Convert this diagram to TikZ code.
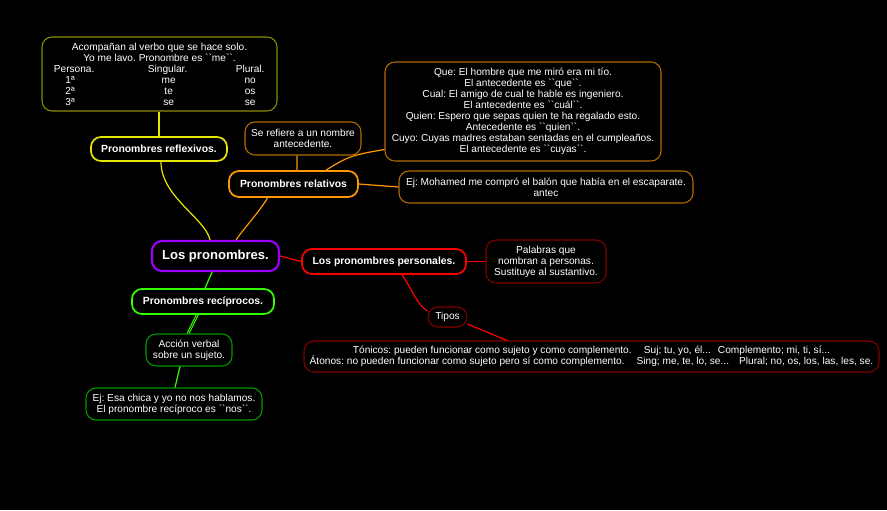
\documentclass[tikz,border=0pt]{standalone}
\usepackage{fontspec}
\setmainfont{Liberation Sans}
\frenchspacing
\newcommand\bq{\textasciigrave\textasciigrave}
\newcommand\hdrow[3]{\makebox[176pt][l]{\hspace*{24pt}\makebox[0pt]{#1}\hspace*{70.1pt}\makebox[0pt]{#2}\hspace*{61.9pt}\makebox[0pt]{#3}}}
\newcommand\nrow[3]{\makebox[176pt][l]{\hspace*{21pt}\makebox[0pt]{#1}\hspace*{73.9pt}\makebox[0pt]{#2}\hspace*{61.1pt}\makebox[0pt]{#3}}}
\definecolor{yel}{HTML}{E6E600}
\definecolor{yeld}{HTML}{8C8C00}
\definecolor{ora}{HTML}{FF9900}
\definecolor{orad}{HTML}{B36B00}
\definecolor{redm}{HTML}{FF0000}
\definecolor{redd}{HTML}{800000}
\definecolor{grn}{HTML}{33FF00}
\definecolor{grnd}{HTML}{009900}
\definecolor{pur}{HTML}{9900FF}
\begin{document}
\begin{tikzpicture}[x=0.75pt,y=-0.75pt,
  base/.style={rounded corners=7.5pt, line width=0.8pt, text=white, align=center, inner sep=0pt,
    font=\fontsize{7.6}{8.25}\selectfont, fill=black},
  lbl/.style={base, line width=1.3pt, font=\bfseries\fontsize{7.8}{9}\selectfont},
  conn/.style={line width=0.9pt}]
\fill[black] (0,0) rectangle (887,510);
\useasboundingbox (0,0) rectangle (887,510);

% nodes
\node[base, draw=yeld, minimum width=176.25pt, minimum height=55.5pt] (info) at (159.5,74)
 {Acompañan al verbo que se hace solo.\\Yo me lavo. Pronombre es \bq me\bq.\\
  \hdrow{Persona.}{Singular.}{Plural.}\\
  \nrow{1ª}{me}{no}\\
  \nrow{2ª}{te}{os}\\
  \nrow{3ª}{se}{se}};
\node[lbl, draw=yel, minimum width=102pt, minimum height=18pt] (refl) at (159,149) {Pronombres reflexivos.};
\node[base, draw=orad, minimum width=87pt, minimum height=24.75pt] (seref) at (303,138.5)
 {Se refiere a un nombre\\antecedente.};
\node[base, draw=orad, minimum width=207pt, minimum height=74.25pt] (que) at (523,111.5)
 {Que: El hombre que me miró era mi tío.\\El antecedente es \bq que\bq.\\
  Cual: El amigo de cual te hable es ingeniero.\\El antecedente es \bq cuál\bq.\\
  Quien: Espero que sepas quien te ha regalado esto.\\Antecedente es \bq quien\bq.\\
  Cuyo: Cuyas madres estaban sentadas en el cumpleaños.\\El antecedente es \bq cuyas\bq.};
\node[lbl, draw=ora, minimum width=96.75pt, minimum height=19.5pt] (rel) at (293.5,184) {Pronombres relativos};
\node[base, draw=orad, minimum width=220.5pt, minimum height=24pt] (ejm) at (546,187)
 {Ej: Mohamed me compró el balón que había en el escaparate.\\antec};
\node[lbl, draw=pur, line width=1.6pt, minimum width=95.25pt, minimum height=22.5pt,
  font=\bfseries\fontsize{9.8}{12}\selectfont] (main) at (215.5,256) {Los pronombres.};
\node[lbl, draw=redm, minimum width=123pt, minimum height=18.75pt] (pers) at (384,261.5) {Los pronombres personales.};
\node[base, draw=redd, minimum width=90pt, minimum height=32.25pt] (pal) at (546,261.5)
 {Palabras que\\nombran a personas.\\Sustituye al sustantivo.};
\node[base, draw=redd, minimum width=29.25pt, minimum height=15pt] (tipos) at (447.5,317) {Tipos};
\node[base, draw=redd, minimum width=431.25pt, minimum height=23.25pt] (ton) at (591.5,356.5)
 {Tónicos: pueden funcionar como sujeto y como complemento.\hspace{1.2em}Suj; tu, yo, él...\hspace{0.7em}Complemento; mi, ti, sí...\\
  Átonos: no pueden funcionar como sujeto pero sí como complemento.\hspace{1.2em}Sing; me, te, lo, se...\hspace{1em}Plural; no, os, los, las, les, se.};
\node[lbl, draw=grn, minimum width=106.5pt, minimum height=18.75pt] (rec) at (203,301.5) {Pronombres recíprocos.};
\node[base, draw=grnd, minimum width=64.5pt, minimum height=24pt] (acc) at (189,350)
 {Acción verbal\\sobre un sujeto.};
\node[base, draw=grnd, minimum width=132pt, minimum height=24pt] (esa) at (174,404)
 {Ej: Esa chica y yo no nos hablamos.\\El pronombre recíproco es \bq nos\bq.};

% connectors
\draw[conn, yel] ([xshift=-4.1pt]main.north) .. controls +(-5,-22) and +(0,35) .. ([xshift=1.5pt]refl.south);
\draw[conn, yel] (refl.north) -- (refl.north |- info.south);
\draw[conn, ora] ([xshift=15.4pt]main.north) .. controls +(8,-12) and +(-8,14) .. ([xshift=-19.5pt]rel.south);
\draw[conn, ora] ([xshift=2.6pt]rel.north) -- ([xshift=-4.5pt]seref.south);
\draw[conn, ora] ([xshift=24.4pt]rel.north) .. controls +(22,-14) and +(-30,5) .. ([yshift=9pt]que.south west);
\draw[conn, ora] (rel.east) -- (ejm.west);
\draw[conn, redm] (main.east) -- (pers.west);
\draw[conn, redm] (pers.east) -- (pal.west);
\draw[conn, redm] ([xshift=13.5pt]pers.south) .. controls +(12,18) and +(-10,-6) .. ([yshift=4.5pt]tipos.west);
\draw[conn, redm] ([yshift=-5.25pt]tipos.east) -- ([xshift=-63.4pt]ton.north);
\draw[conn, grn] ([xshift=-2.6pt]main.south) -- ([xshift=1.5pt]rec.north);
\draw[conn, grn, line width=0.7pt] ([xshift=-5pt]rec.south) -- ([xshift=-1.5pt]acc.north);
\draw[conn, grn, line width=0.7pt] ([xshift=-3.5pt]rec.south) -- ([xshift=0pt]acc.north);
\draw[conn, grn] ([xshift=-6.75pt]acc.south) -- ([xshift=0.75pt]esa.north);
\end{tikzpicture}
\end{document}
